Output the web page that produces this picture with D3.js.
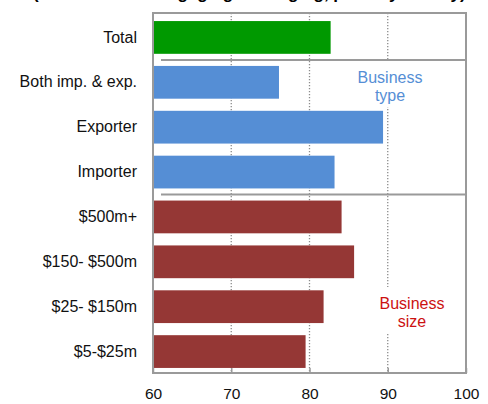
<!DOCTYPE html>
<html>
<head>
<meta charset="utf-8">
<script src="https://cdn.jsdelivr.net/npm/d3@7"></script>
<style>
  html, body { margin: 0; padding: 0; background: #fff; }
  svg { display: block; font-family: "Liberation Sans", Arial, sans-serif; }
</style>
</head>
<body>
<svg id="chart" width="488" height="404"></svg>
<script>
// Categories (top to bottom), values (per cent of firms) and group of each bar
const categories = ["Total", "Both imp. & exp.", "Exporter", "Importer",
                    "$500m+", "$150- $500m", "$25- $150m", "$5-$25m"];
const values = [82.7, 76.1, 89.4, 83.2, 84.1, 85.7, 81.8, 79.5];
const groups = ["total", "type", "type", "type", "size", "size", "size", "size"];
const xTicks = [60, 70, 80, 90, 100];
const titleText = "(Share of firms engaging in hedging, partially or fully)";

const colors = { total: "#009900", type: "#558ED5", size: "#953735" };

const svg = d3.select("#chart");
const plotLeft = 153, plotRight = 466, plotTop = 13, plotBottom = 373;

const x = d3.scaleLinear().domain([60, 100]).range([plotLeft, plotRight]);
const y = d3.scaleBand().domain(categories).range([15, 374]).paddingInner(0.27).paddingOuter(0.135);

// Title (sits above the frame, mostly clipped by the top edge)
svg.append("text")
  .attr("x", 33).attr("y", -1)
  .attr("font-size", 17).attr("font-weight", "bold").attr("fill", "#000")
  .text(titleText);

// Dotted vertical gridlines
svg.append("g").selectAll("line")
  .data(xTicks.slice(1))
  .join("line")
  .attr("x1", d => x(d)).attr("x2", d => x(d))
  .attr("y1", plotTop).attr("y2", plotBottom)
  .attr("stroke", "#8c8c8c").attr("stroke-width", 1.3)
  .attr("stroke-dasharray", "1.3,1.7");

// Bars
svg.append("g").selectAll("rect")
  .data(categories)
  .join("rect")
  .attr("x", x(60) + 1)
  .attr("y", d => y(d))
  .attr("width", (d, i) => x(values[i]) - x(60) - 1)
  .attr("height", y.bandwidth())
  .attr("fill", (d, i) => colors[groups[i]]);

// Group separators
const sepAfter = [0, 3];
const sepY = i => (y(categories[i]) + y.bandwidth() + y(categories[i + 1])) / 2;
svg.append("g").selectAll("line")
  .data(sepAfter)
  .join("line")
  .attr("x1", 161).attr("x2", plotRight)
  .attr("y1", sepY).attr("y2", sepY)
  .attr("stroke", "#9a9a9a").attr("stroke-width", 2);

// Group annotations on white boxes
function note(lines, cx, baseY, w, color) {
  const g = svg.append("g");
  g.append("rect")
    .attr("x", cx - w / 2).attr("y", baseY - 22)
    .attr("width", w).attr("height", 46).attr("fill", "#fff");
  lines.forEach((t, k) => {
    g.append("text")
      .attr("x", cx).attr("y", baseY + k * 18)
      .attr("text-anchor", "middle").attr("font-size", 16)
      .attr("fill", color).text(t);
  });
}
note(["Business", "type"], 390, 83, 70, "#558ED5");
note(["Business", "size"], 412, 309, 70, "#CC1111");

// Frame
svg.append("rect")
  .attr("x", plotLeft).attr("y", plotTop)
  .attr("width", plotRight - plotLeft).attr("height", plotBottom - plotTop)
  .attr("fill", "none").attr("stroke", "#9a9a9a").attr("stroke-width", 2);

// Bottom axis
const xAxis = d3.axisBottom(x).tickValues(xTicks).tickSize(-5).tickPadding(15).tickFormat(d3.format("d"));
const ax = svg.append("g").attr("transform", `translate(0,${plotBottom})`).call(xAxis);
ax.select(".domain").remove();
ax.selectAll(".tick line").attr("stroke", "#9a9a9a").attr("stroke-width", 1.5);
ax.selectAll(".tick text")
  .attr("font-size", 15.5).attr("fill", "#111")
  .attr("font-family", "Liberation Sans, Arial, sans-serif");

// Category labels
const yAxis = d3.axisLeft(y).tickSize(0).tickPadding(16);
const ay = svg.append("g").attr("transform", `translate(${plotLeft},0)`).call(yAxis);
ay.select(".domain").remove();
ay.selectAll(".tick text")
  .attr("font-size", 16).attr("fill", "#111")
  .attr("font-family", "Liberation Sans, Arial, sans-serif");
</script>
</body>
</html>
